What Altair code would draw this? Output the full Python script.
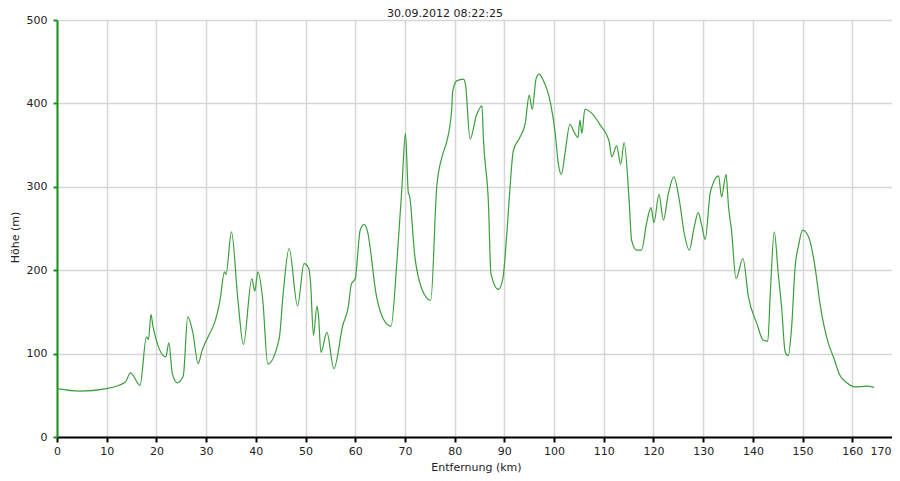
import altair as alt
import pandas as pd

title_text = "30.09.2012 08:22:25"

distance_km = [
    0, 4.6, 10, 13.7, 14.8, 16.7, 18.0, 18.4, 18.9, 19.3, 21.9, 22.5, 23.2, 24.2,
    25.4, 26.3, 27.3, 28.4, 29.1, 32.8, 33.7, 34.0, 35.1, 36.4, 37.5, 39.2, 39.8,
    40.4, 41.4, 42.4, 44.7, 45.5, 46.7, 48.4, 49.7, 50.6, 51.0, 51.6, 52.3, 52.6,
    53.1, 54.3, 55.7, 57.5, 58.6, 59.2, 60.0, 61.0, 61.8, 62.4, 64.3, 66.0, 67.2,
    68.4, 69.4, 70.1, 70.7, 70.9, 72.0, 74.0, 75.2, 76.4, 77.6, 78.4, 79.4, 79.6,
    80.4, 81.8, 82.2, 83.1, 84.4, 85.5, 85.8, 86.8, 87.3, 88.8, 89.7, 90.5, 91.1,
    91.8, 93.1, 94.2, 95.0, 95.6, 96.4, 97.0, 97.8, 99.3, 100.2, 100.9, 101.5,
    102.2, 103.2, 104.0, 104.8, 105.2, 105.6, 106.2, 107.6, 109.3, 111.1, 111.6,
    112.6, 113.4, 114.1, 115.1, 115.6, 116.6, 117.6, 118.6, 119.5, 120.1, 121.1,
    122.0, 123.0, 124.1, 125.2, 126.2, 127.2, 128.2, 129.0, 129.7, 130.4, 131.4,
    132.0, 133.1, 133.7, 134.6, 135.1, 135.7, 136.6, 138.0, 139.1, 140.8, 142.1,
    143.0, 143.5, 144.3, 145.1, 145.8, 146.5, 147.1, 147.8, 148.5, 149.2, 150.0,
    151.2, 152.5, 153.5, 155.2, 156.2, 157.5, 158.9, 160.6, 162.9, 164.4,
]

hoehe_m = [
    58, 55, 58, 65.6, 77, 62, 120, 117, 147, 133, 96, 113, 76, 65,
    73, 144, 126, 88, 102, 164, 198, 195, 246, 164, 111, 190, 175,
    198, 164, 87.5, 118, 172, 226, 157, 208, 203, 186, 122, 157, 146,
    101.5, 125.5, 82, 134, 156, 183, 190, 248, 255, 248, 168, 138, 133,
    212, 300, 364, 292, 290, 216, 170, 164, 300, 339, 354, 392, 414,
    427, 429, 422, 357, 386, 397, 356, 280, 196, 177, 190, 244, 296,
    343, 359, 376, 410, 393, 430, 435, 428, 400, 366, 326, 315,
    340, 375, 366, 359, 380, 364, 393, 388, 374, 354, 336,
    349, 327, 353, 284, 236, 224, 224, 256, 275, 257, 291,
    260, 292, 312, 284, 244, 224, 252, 269, 254, 237, 292,
    304, 313, 288, 315, 276, 248, 190, 214, 168, 136, 116,
    115, 172, 246, 196, 154, 102, 97.5, 132, 204, 230, 248,
    240, 204, 160, 112, 96, 74, 65, 60, 61, 59.5,
]

x_ticks = list(range(0, 171, 10))
y_ticks = [0, 100, 200, 300, 400, 500]

df = pd.DataFrame({"km": distance_km, "hoehe": hoehe_m})

FONT = "DejaVu Sans"
TEXT_COLOR = "#222222"

last_tick = "datum.value == 170"

line = (
    alt.Chart(df)
    .mark_line(interpolate="monotone", color="#3b9e3b", strokeWidth=1.2)
    .encode(
        x=alt.X(
            "km:Q",
            scale=alt.Scale(domain=[0, 170], range=[0, 845], nice=False),
            axis=alt.Axis(
                values=x_ticks,
                title="Entfernung (km)",
                domainColor="#000000",
                domainWidth=2,
                tickColor="#000000",
                tickWidth=2,
                tickSize=5,
                labelPadding=3,
                labelAlign=alt.condition(last_tick, alt.value("right"), alt.value("center")),
                labelOffset=alt.condition(last_tick, alt.value(-11), alt.value(0)),
                titleY=33,
                titleBaseline="alphabetic",
                titleX=419,
            ),
        ),
        y=alt.Y(
            "hoehe:Q",
            scale=alt.Scale(domain=[0, 500], nice=False),
            axis=alt.Axis(
                values=y_ticks,
                title="Höhe (m)",
                domainColor="#1a8f1a",
                domainWidth=2,
                tickColor="#1a8f1a",
                tickWidth=2,
                tickSize=4,
                labelPadding=6,
                titleX=-42,
                titleY=217,
                titleAngle=-90,
                titleBaseline="middle",
                titleAlign="center",
            ),
        ),
    )
)

title = (
    alt.Chart(pd.DataFrame({"t": [title_text]}))
    .mark_text(font=FONT, fontSize=11, color=TEXT_COLOR, align="center", baseline="alphabetic")
    .encode(text="t:N", x=alt.value(388), y=alt.value(-3))
)

chart = (
    alt.layer(line, title)
    .properties(
        width=835,
        height=417,
        autosize=alt.AutoSizeParams(type="none"),
        padding={"left": 49, "top": 12, "right": 0, "bottom": 36},
    )
    .configure_axis(
        labelFont=FONT,
        titleFont=FONT,
        labelFontSize=11,
        titleFontSize=11,
        titleFontWeight="normal",
        labelColor=TEXT_COLOR,
        titleColor=TEXT_COLOR,
        gridColor="#d6d6d6",
        gridWidth=1.5,
    )
    .configure_view(stroke=None)
)

chart.save("out.html", embed_options={"renderer": "svg", "actions": False})
